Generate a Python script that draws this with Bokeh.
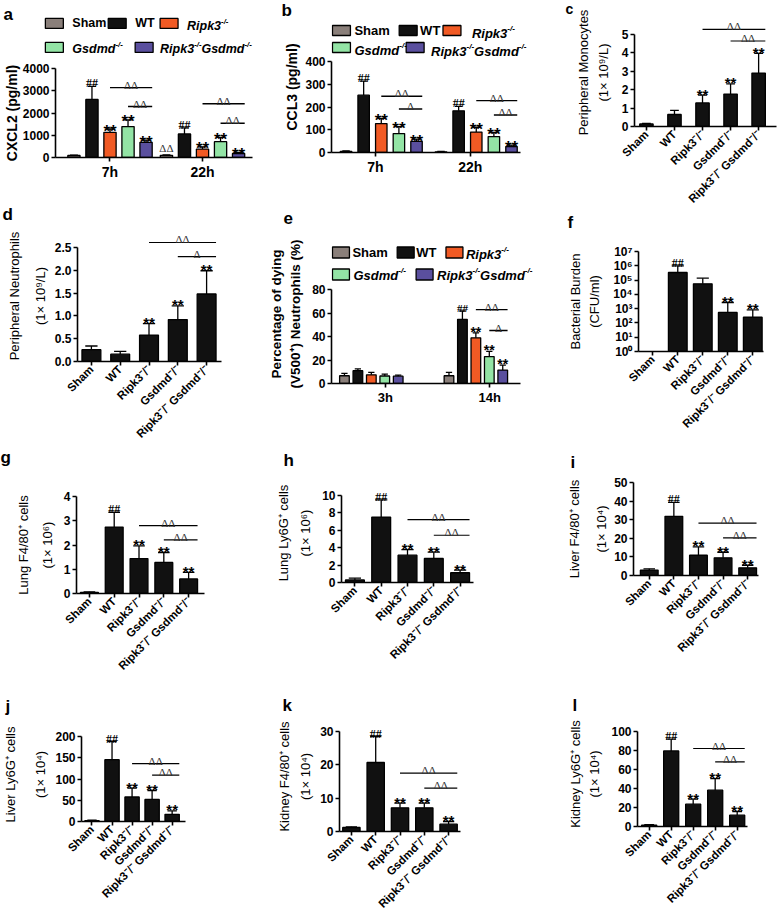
import math
from bokeh.plotting import figure
from bokeh.layouts import row, column
from bokeh.models import Range1d, FixedTicker, NumeralTickFormatter, Title
from bokeh.core.properties import value
from bokeh.embed import file_html
from bokeh.resources import INLINE

# ------------------------------------------------------------------ data
GENOTYPES = ["Sham", "WT", "Ripk3⁻/⁻", "Gsdmd⁻/⁻", "Ripk3⁻/⁻ Gsdmd⁻/⁻"]
LEGEND_LABELS = ["Sham", "WT", "Ripk3-/-", "Gsdmd-/-", "Ripk3-/-Gsdmd-/-"]
GENO_COLORS = ["#8a7f7a", "#111111", "#f15a24", "#93e4a5", "#5a4f9e"]
BLACK5 = ["#111111"] * 5
BRK_FROM = [2, 3]
BRK_TO = [4, 4]

# a  CXCL2
A_GROUPS = ["7h", "22h"]
A_MEAN = [[90, 2610, 1130, 1390, 680], [100, 1060, 380, 710, 180]]
A_SEM = [[15, 590, 150, 300, 105], [12, 270, 100, 195, 45]]
A_MARK = [["", "##", "**", "**", "**"], ["ΔΔ", "##", "**", "**", "**"]]
A_BRK_Y = [[3140, 2290], [2415, 1540]]
A_BRK_LAB = [["ΔΔ", "ΔΔ"], ["ΔΔ", "ΔΔ"]]
A_YTICKS = [0, 1000, 2000, 3000, 4000]

# b  CCL3
B_GROUPS = ["7h", "22h"]
B_MEAN = [[5, 252, 127, 83, 49], [3, 183, 90, 70, 26]]
B_SEM = [[2, 62, 23, 31, 10], [2, 20, 21, 18, 6]]
B_MARK = [["", "##", "**", "**", "**"], ["", "##", "**", "**", "**"]]
B_BRK_Y = [[247, 191], [228, 165]]
B_BRK_LAB = [["ΔΔ", "Δ"], ["ΔΔ", "ΔΔ"]]
B_YTICKS = [0, 100, 200, 300, 400]

# c  peripheral monocytes
C_MEAN = [0.14, 0.65, 1.28, 1.76, 2.90]
C_SEM = [0.03, 0.22, 0.42, 0.55, 1.07]
C_MARK = ["", "", "**", "**", "**"]
C_BRK_Y = [5.27, 4.64]
C_BRK_LAB = ["ΔΔ", "ΔΔ"]
C_YTICKS = [0, 1, 2, 3, 4, 5]

# d  peripheral neutrophils
D_MEAN = [0.26, 0.16, 0.58, 0.92, 1.48]
D_SEM = [0.08, 0.06, 0.25, 0.30, 0.51]
D_MARK = ["", "", "**", "**", "**"]
D_BRK_Y = [2.61, 2.30]
D_BRK_LAB = ["ΔΔ", "Δ"]
D_YTICKS = [0, 0.5, 1.0, 1.5, 2.0, 2.5]

# e  dying neutrophils
E_GROUPS = ["3h", "14h"]
E_MEAN = [[6.6, 10.9, 7.4, 6.4, 6.2], [6.6, 54.6, 38.9, 22.9, 11.4]]
E_SEM = [[2.0, 1.5, 2.0, 1.6, 1.0], [2.8, 7.1, 4.2, 4.5, 4.3]]
E_MARK = [["", "", "", "", ""], ["", "##", "**", "**", "**"]]
E_BRK_Y = [[], [62.9, 45.1]]
E_BRK_LAB = [[], ["ΔΔ", "Δ"]]
E_YTICKS = [0, 20, 40, 60, 80]

# f  bacterial burden (log)
F_MEAN = [float("nan"), 3.4e5, 5.5e4, 540, 250]
F_SEM = [float("nan"), 6.6e5, 8.0e4, 2160, 580]
F_MARK = ["", "##", "", "**", "**"]
F_YTICKS = [1, 10, 100, 1e3, 1e4, 1e5, 1e6, 1e7]
F_YLABELS = ["10⁰", "10¹", "10²", "10³", "10⁴", "10⁵", "10⁶", "10⁷"]

# g-l organ infiltrates
G_MEAN = [0.05, 2.74, 1.44, 1.28, 0.60]
G_SEM = [0.02, 0.61, 0.52, 0.41, 0.27]
G_BRK_Y = [2.80, 2.21]
G_YTICKS = [0, 1, 2, 3, 4]

H_MEAN = [0.3, 7.52, 3.14, 2.76, 1.12]
H_SEM = [0.2, 1.98, 0.65, 0.73, 0.31]
H_BRK_Y = [7.22, 5.43]
H_YTICKS = [0, 2, 4, 6, 8, 10]

I_MEAN = [2.9, 31.8, 10.9, 9.5, 4.1]
I_SEM = [0.7, 7.5, 4.5, 3.0, 1.4]
I_BRK_Y = [28.2, 20.2]
I_YTICKS = [0, 10, 20, 30, 40, 50]

J_MEAN = [2, 145.5, 57.6, 52, 17]
J_SEM = [1, 42.5, 21, 21, 8]
J_BRK_Y = [136, 109]
J_YTICKS = [0, 50, 100, 150, 200]

K_MEAN = [1.2, 20.7, 7.1, 7.1, 2.2]
K_SEM = [0.2, 7.8, 1.4, 1.4, 0.8]
K_BRK_Y = [17.5, 13.0]
K_YTICKS = [0, 10, 20, 30]

L_MEAN = [1.5, 79.6, 23.5, 38.2, 11.9]
L_SEM = [0.5, 12.4, 5.3, 12.3, 3.9]
L_BRK_Y = [82.1, 68.1]
L_YTICKS = [0, 20, 40, 60, 80, 100]

ORGAN_MARK = ["", "##", "**", "**", "**"]
ORGAN_BRK_LAB = ["ΔΔ", "ΔΔ"]

# ------------------------------------------------------------------ helpers
SX = 778 / 780
SY = 922 / 924
FONT = "Liberation Sans"
SERIF = "Liberation Serif"
CHAR_W = {"R": .722, "i": .278, "p": .611, "k": .556, "3": .556, "G": .778, "s": .556,
          "d": .611, "m": .889, "-": .333, "/": .278, "S": .667, "h": .611, "a": .556,
          "W": .944, "T": .611}


def text_w(s, size):
    return sum(CHAR_W.get(ch, 0.6) for ch in s) * size


def split_sup(label):
    pieces = label.split("-/-")
    parts = []
    for k, piece in enumerate(pieces):
        if piece:
            parts.append((piece, False))
        if k < len(pieces) - 1:
            parts.append(("-/-", True))
    return parts


def cum(y):
    return round(y * SY)


def make_fig(W, X0, Y0, Y1, frame, xr, yr, y_type="linear"):
    fl, fr, ft, fb = frame
    H = cum(Y1) - cum(Y0)
    L = round((fl - X0) * SX)
    R = W - round((fr - X0) * SX)
    T = round((ft - Y0) * SY)
    B = H - round((fb - Y0) * SY)
    p = figure(width=W, height=H, x_range=xr, y_range=yr, y_axis_type=y_type,
               output_backend="svg", toolbar_location=None,
               min_border_left=L, min_border_right=R,
               min_border_top=T, min_border_bottom=B)
    p.frame_align = False
    p.grid.visible = False
    p.outline_line_color = None
    p.border_fill_color = "white"
    p.background_fill_color = "white"
    return p, L, T


def add_letter_title(p, letter, lx, baseline, X0, Y0, frame, fL, T, size=17):
    ft = frame[2]
    h_title = 2 + 1.117 * size
    want = 2 * ((ft - 5) - baseline) * SY
    so = max(0, min(want, T - h_title - 1))
    p.title.text = letter
    p.title.align = "left"
    p.title.offset = (lx - X0) * SX - fL
    p.title.text_font = FONT
    p.title.text_font_style = "bold"
    p.title.text_font_size = f"{size}px"
    p.title.text_color = "black"
    p.title.vertical_align = "top"
    p.title.standoff = int(so)


def add_letter_below(p, letter, lx, X0, fL):
    p.add_layout(Title(text=letter, align="left", offset=(lx - X0) * SX - fL,
                       text_font=FONT, text_font_style="bold", text_font_size="17px",
                       text_color="black", vertical_align="top", standoff=0), "below")


def style_axes(p, yticks, ylabel, ylab_style, ylab_size, ylab_lh, ylab_standoff,
               xticks, xlabels, xlab_size, xlab_style, rotate, ylabels=None, yfmt=None):
    for ax in (p.xaxis[0], p.yaxis[0]):
        ax.axis_line_width = 1.6
        ax.axis_line_color = "black"
        ax.major_tick_line_width = 1.6
        ax.major_tick_line_color = "black"
        ax.major_tick_in = 0
        ax.major_tick_out = 4
        ax.minor_tick_line_color = None
        ax.major_label_text_font = FONT
        ax.major_label_text_color = "black"
        ax.major_label_standoff = 2
    ya = p.yaxis[0]
    ya.ticker = FixedTicker(ticks=yticks)
    ya.bounds = (yticks[0], yticks[-1])
    ya.major_label_text_font_style = "bold"
    ya.major_label_text_font_size = "12px"
    if ylabels is not None:
        ya.major_label_overrides = {t: s for t, s in zip(yticks, ylabels)}
    if yfmt is not None:
        ya.formatter = NumeralTickFormatter(format=yfmt)
    ya.axis_label = ylabel
    ya.axis_label_text_font = FONT
    ya.axis_label_text_font_style = ylab_style
    ya.axis_label_text_font_size = ylab_size
    ya.axis_label_text_line_height = ylab_lh
    ya.axis_label_text_color = "black"
    ya.axis_label_standoff = ylab_standoff
    xa = p.xaxis[0]
    xa.ticker = FixedTicker(ticks=xticks)
    xa.major_label_overrides = {t: s for t, s in zip(xticks, xlabels)}
    xa.major_label_text_font_size = xlab_size
    xa.major_label_text_font_style = xlab_style
    if rotate:
        xa.major_label_orientation = math.pi / 4


def draw_bars(p, xs, means, sems, colors, bw, bottom, lw=1.3):
    p.vbar(x=xs, top=means, bottom=bottom, width=bw, fill_color=colors,
           line_color="black", line_width=lw)
    tops = [m + s for m, s in zip(means, sems)]
    p.segment(x0=xs, y0=means, x1=xs, y1=tops, line_color="black", line_width=lw)
    cw = bw * 0.65
    p.segment(x0=[x - cw / 2 for x in xs], y0=tops, x1=[x + cw / 2 for x in xs], y1=tops,
              line_color="black", line_width=lw)
    return tops


def draw_marks(p, xs, tops, marks, star_size, hash_size, delta_size, star_off):
    styles = {
        "**": (FONT, "bold", star_size, star_off, "black"),
        "##": (SERIF, "bold", hash_size, -3, "black"),
        "ΔΔ": (SERIF, "normal", delta_size, -7, "#333333"),
    }
    for kind, (fnt, sty, size, off, col) in styles.items():
        idx = [i for i, m in enumerate(marks) if m == kind]
        if not idx:
            continue
        p.text(x=[xs[i] for i in idx], y=[tops[i] for i in idx], text=[kind] * len(idx),
               text_font=value(fnt), text_font_style=sty, text_font_size=size,
               text_align="center", text_baseline="alphabetic", y_offset=off,
               text_color=col)


def draw_brackets(p, xs, bw, ys, labels, delta_size, lw=1.4):
    if not ys:
        return
    x0 = [xs[f] for f in BRK_FROM[:len(ys)]]
    x1 = [xs[t] + bw / 2 for t in BRK_TO[:len(ys)]]
    p.segment(x0=x0, y0=ys, x1=x1, y1=ys, line_color="black", line_width=lw)
    p.text(x=[(a + b) / 2 for a, b in zip(x0, x1)], y=ys, text=labels,
           text_font=value(SERIF), text_font_style="normal", text_font_size=delta_size,
           text_align="center", text_baseline="alphabetic", y_offset=-3,
           text_color="#333333")


def draw_legend(p, xmap, ymap, sw_left, sw_cy, tx_left, tx_cy, sw_w, sw_h, fsize):
    sx = [xmap(x + sw_w / 2) for x in sw_left]
    sy = [ymap(y) for y in sw_cy]
    p.rect(x=sx, y=sy, width=sw_w * SX, height=sw_h * SY, width_units="screen",
           height_units="screen", fill_color=GENO_COLORS, line_color="black",
           line_width=1.3)
    for i, lab in enumerate(LEGEND_LABELS):
        style = "bold" if i < 2 else "bold italic"
        cursor = 0.0
        for txt, sup in split_sup(lab):
            size = fsize * 0.62 if sup else fsize
            p.text(x=[xmap(tx_left[i])], y=[ymap(tx_cy[i])], text=[txt],
                   x_offset=cursor, y_offset=(-0.42 * fsize if sup else 0),
                   text_font=value(FONT), text_font_style=style,
                   text_font_size=f"{size:.1f}px", text_baseline="middle",
                   text_color="black")
            cursor += text_w(txt, size)


def header_fig(W, X0, Y0, Y1, letter, lpos, legend=None):
    H = cum(Y1) - cum(Y0)
    p = figure(width=W, height=H, x_range=Range1d(0, W), y_range=Range1d(H, 0),
               min_border=0, x_axis_location=None, y_axis_location=None,
               output_backend="svg", toolbar_location=None)
    p.frame_align = False
    p.grid.visible = False
    p.outline_line_color = None
    xmap = lambda x: (x - X0) * SX
    ymap = lambda y: (y - Y0) * SY
    if legend is not None:
        draw_legend(p, xmap, ymap, *legend)
    p.text(x=[xmap(lpos[0])], y=[ymap(lpos[1])], text=[letter],
           text_font=value(FONT), text_font_style="bold", text_font_size="17px",
           text_baseline="alphabetic", text_color="black")
    return p


def grouped_panel(W, X0, Y0, Y1, frame, y1_ref, axis_right, gc0, gd, sp, bw, groups,
                  means, sems, marks, brk_ys, brk_labs, yticks, ylabel, ylab_style,
                  ylab_size, ylab_lh, ylab_standoff, xlab_size, star_size, hash_size,
                  delta_size, star_off, legend=None, letter=None, tick_shift=0.0):
    fl, fr, ft, fb = frame
    ymax = yticks[-1]
    vpp = ymax / (fb - y1_ref)
    yr = Range1d(0, ymax + (y1_ref - ft) * vpp)
    xr = Range1d((fl - gc0) / gd, (fr - gc0) / gd)
    p, fL, T = make_fig(W, X0, Y0, Y1, frame, xr, yr)
    spu, bwu = sp / gd, bw / gd
    for g in range(len(groups)):
        xs = [g + (i - 2) * spu for i in range(5)]
        tops = draw_bars(p, xs, means[g], sems[g], GENO_COLORS, bwu, 0)
        draw_marks(p, xs, tops, marks[g], star_size, hash_size, delta_size, star_off)
        draw_brackets(p, xs, bwu, brk_ys[g], brk_labs[g], delta_size)
    xticks = [g + tick_shift / gd for g in range(len(groups))]
    style_axes(p, yticks, ylabel, ylab_style, ylab_size, ylab_lh, ylab_standoff,
               xticks, groups, xlab_size, "bold", False)
    p.xaxis[0].bounds = (xr.start, (axis_right - gc0) / gd)
    if legend is not None:
        xmap = lambda x: (x - gc0) / gd
        ymap = lambda y: (fb - y) * vpp
        draw_legend(p, xmap, ymap, *legend)
    if letter is not None:
        add_letter_title(p, letter[0], letter[1], letter[2], X0, Y0, frame, fL, T)
    return p


def simple_panel(W, X0, Y0, Y1, frame, y1_ref, c0, sp, bw, means, sems, marks,
                 brk_ys, brk_labs, yticks, ylabel, ylab_lh, ylab_standoff, xlab_style,
                 letter=None, below_letter=None, log=False, ylabels=None, yfmt=None,
                 letter_size=17):
    fl, fr, ft, fb = frame
    if log:
        dmax = math.log10(yticks[-1])
        dpp = dmax / (fb - y1_ref)
        yr = Range1d(1, 10 ** (dmax + (y1_ref - ft) * dpp))
    else:
        ymax = yticks[-1]
        vpp = ymax / (fb - y1_ref)
        yr = Range1d(0, ymax + (y1_ref - ft) * vpp)
    xr = Range1d((fl - c0) / sp, (fr - c0) / sp)
    p, fL, T = make_fig(W, X0, Y0, Y1, frame, xr, yr, "log" if log else "linear")
    xs = list(range(5))
    bwu = bw / sp
    tops = draw_bars(p, xs, means, sems, BLACK5, bwu, 1 if log else 0)
    draw_marks(p, xs, tops, marks, "15px", "12px", "11px", -1)
    draw_brackets(p, xs, bwu, brk_ys, brk_labs, "11px", lw=1.2)
    style_axes(p, yticks, ylabel, "normal", "13px", ylab_lh, ylab_standoff,
               xs, GENOTYPES, "11.5px", xlab_style, True, ylabels=ylabels, yfmt=yfmt)
    if letter is not None:
        add_letter_title(p, letter[0], letter[1], letter[2], X0, Y0, frame, fL, T,
                         size=letter_size)
    if below_letter is not None:
        add_letter_below(p, below_letter[0], below_letter[1], X0, fL)
    return p


# ------------------------------------------------------------------ columns
X1, X2, X3 = 0, 255, 565
W1 = round(X2 * SX) - round(X1 * SX)
W2 = round(X3 * SX) - round(X2 * SX)
W3 = round(780 * SX) - round(X3 * SX)

# column 1
a_head = header_fig(W1, X1, 0, 58, "a", (3, 14),
                    legend=([45, 108, 160, 45, 135], [23, 23, 23, 47, 47],
                            [72, 135, 187, 72, 160], [23, 23, 26, 49, 49],
                            18, 10, 12.5))
a_plot = grouped_panel(W1, X1, 58, 197, (52, 253, 68, 157), 68, 253, 107.6, 94.4, 18.4,
                       12.5, A_GROUPS, A_MEAN, A_SEM, A_MARK, A_BRK_Y, A_BRK_LAB, A_YTICKS,
                       "CXCL2 (pg/ml)", "bold", "14px", 1.2, 0, "14px", "17px", "12px",
                       "11px", 2)
d_plot = simple_panel(W1, X1, 197, 473, (77, 222, 230, 361), 247, 91, 29, 19,
                      D_MEAN, D_SEM, D_MARK, D_BRK_Y, D_BRK_LAB, D_YTICKS,
                      "Peripheral Neutrophils\n(1× 10⁹/L)", 1.7, 4, "bold",
                      letter=("d", 2, 220), below_letter=("g", 0), yfmt="0.0")
g_plot = simple_panel(W1, X1, 473, 686, (76, 205, 497, 594.6), 497, 89, 25, 18,
                      G_MEAN, G_SEM, ORGAN_MARK, G_BRK_Y, ORGAN_BRK_LAB, G_YTICKS,
                      "Lung F4/80⁺ cells\n(1× 10⁶)", 1.6, 6, "bold")
j_plot = simple_panel(W1, X1, 686, 924, (76, 185, 728, 822), 737, 87, 21, 15,
                      J_MEAN, J_SEM, ORGAN_MARK, J_BRK_Y, ORGAN_BRK_LAB, J_YTICKS,
                      "Liver Ly6G⁺ cells\n(1× 10⁴)", 2.0, 4, "bold",
                      letter=("j", 0, 707))

# column 2
b_plot = grouped_panel(W2, X2, 0, 180, (332, 560, 21, 152), 61, 522, 382, 95.4, 17.7,
                       11.5, B_GROUPS, B_MEAN, B_SEM, B_MARK, B_BRK_Y, B_BRK_LAB, B_YTICKS,
                       "CCL3 (pg/ml)", "bold", "14px", 1.2, 2, "14px", "17px", "12px",
                       "11px", 2,
                       legend=([333, 400, 444, 333, 407], [30, 30, 30, 47, 47],
                               [355, 421, 473, 355, 432], [30, 30, 33, 50, 51],
                               18, 10, 13),
                       letter=("b", 282, 13), tick_shift=-6)
e_plot = grouped_panel(W2, X2, 180, 437, (332, 560, 244, 383), 289, 522, 372, 105, 13.5,
                       9.7, E_GROUPS, E_MEAN, E_SEM, E_MARK, E_BRK_Y, E_BRK_LAB, E_YTICKS,
                       "Percentage of dying\n(V500⁺) Neutrophils (%)", "bold", "13.5px",
                       1.25, 6, "13px", "14px", "11px", "11px", -1,
                       legend=([333, 398, 447, 333, 417], [252, 252, 252, 274, 274],
                               [353, 417, 467, 354, 438], [252, 252, 254, 275, 275],
                               17, 11, 13),
                       letter=("e", 284, 220), tick_shift=14)
h_plot = simple_panel(W2, X2, 437, 686, (342, 475, 484, 583), 496, 355.5, 26.5, 19,
                      H_MEAN, H_SEM, ORGAN_MARK, H_BRK_Y, ORGAN_BRK_LAB, H_YTICKS,
                      "Lung Ly6G⁺ cells\n(1× 10⁶)", 1.45, 6, "bold",
                      letter=("h", 284, 467))
k_plot = simple_panel(W2, X2, 686, 924, (340, 462, 722, 832), 732, 352, 24.5, 17.5,
                      K_MEAN, K_SEM, ORGAN_MARK, K_BRK_Y, ORGAN_BRK_LAB, K_YTICKS,
                      "Kidney F4/80⁺ cells\n(1× 10⁴)", 1.4, 4, "bold",
                      letter=("k", 283, 712))

# column 3
c_plot = simple_panel(W3, X3, 0, 236, (635, 778, 17, 126), 33, 647, 28.25, 13.5,
                      C_MEAN, C_SEM, C_MARK, C_BRK_Y, C_BRK_LAB, C_YTICKS,
                      "Peripheral Monocytes\n(1× 10⁹/L)", 1.3, 8, "bold",
                      letter=("c", 566, 15), below_letter=("f", 568), letter_size=14)
f_plot = simple_panel(W3, X3, 236, 443, (638, 765, 252, 352), 252, 652.5, 25.4, 19,
                      F_MEAN, F_SEM, F_MARK, [], [], F_YTICKS,
                      "Bacterial Burden\n(CFU/ml)", 1.3, 8, "bold",
                      log=True, ylabels=F_YLABELS)
i_plot = simple_panel(W3, X3, 443, 686, (633, 760, 483, 576), 483, 649, 25, 18,
                      I_MEAN, I_SEM, ORGAN_MARK, I_BRK_Y, ORGAN_BRK_LAB, I_YTICKS,
                      "Liver F4/80⁺ cells\n(1× 10⁴)", 1.8, 2, "bold",
                      letter=("i", 570, 468))
l_plot = simple_panel(W3, X3, 686, 924, (635, 748, 722, 827), 732, 647, 22.6, 15.5,
                      L_MEAN, L_SEM, ORGAN_MARK, L_BRK_Y, ORGAN_BRK_LAB, L_YTICKS,
                      "Kidney Ly6G⁺ cells\n(1× 10⁴)", 1.3, 6, "bold",
                      letter=("l", 570, 712))

col1 = column(a_head, a_plot, d_plot, g_plot, j_plot, spacing=0)
col2 = column(b_plot, e_plot, h_plot, k_plot, spacing=0)
col3 = column(c_plot, f_plot, i_plot, l_plot, spacing=0)
layout = row(col1, col2, col3, spacing=0)

open("out.html", "w").write(file_html(layout, INLINE))
